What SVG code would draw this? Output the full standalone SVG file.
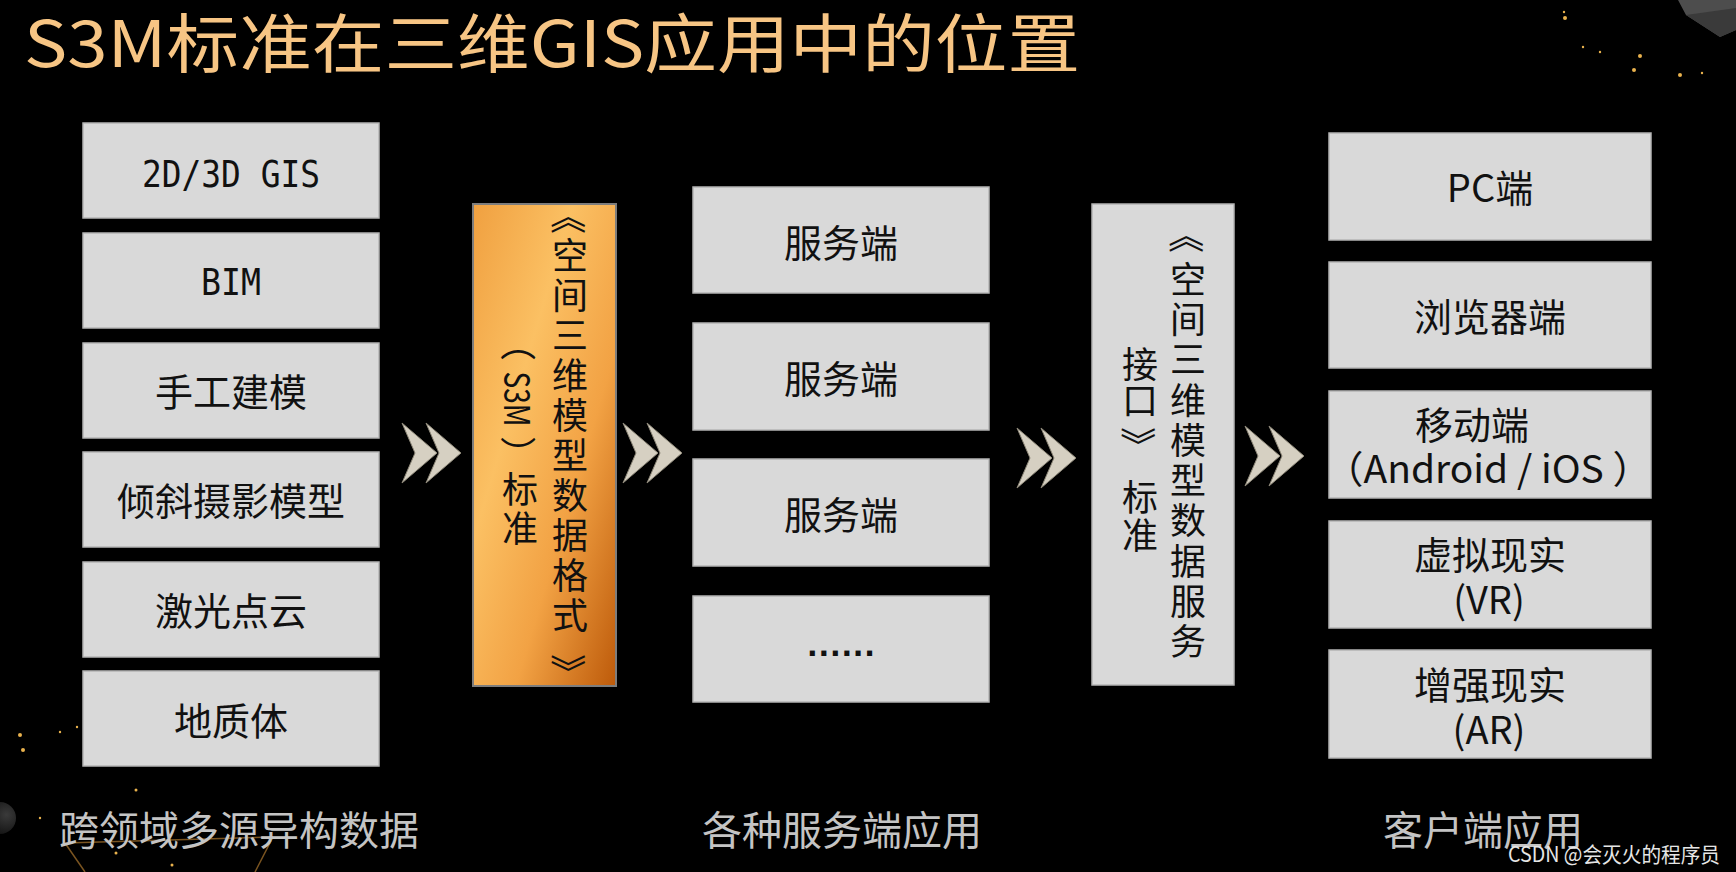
<svg xmlns="http://www.w3.org/2000/svg" width="1736" height="872" viewBox="0 0 1736 872">
<defs>
<style>
.box{fill:#d9d9d9;stroke:#b4b4b4;stroke-width:1.5}
.t{font-family:"Noto Sans CJK SC","Noto Sans",sans-serif;font-size:38px;fill:#111;text-anchor:middle}
.lat{font-family:"DejaVu Sans Mono","Liberation Mono",monospace;font-size:37px;fill:#111;text-anchor:middle}
.v{font-family:"Noto Sans CJK SC",sans-serif;font-size:36px;fill:#111;writing-mode:vertical-rl}
.r{font-family:"Noto Sans CJK SC",sans-serif;font-size:36px;fill:#111;text-anchor:middle;dominant-baseline:central}
.cap{font-family:"Noto Sans CJK SC",sans-serif;font-size:40px;fill:#c4c4c4;text-anchor:middle}
.chev{fill:#d6d0c2;stroke:#8d8778;stroke-width:1}
.star{fill:#e9b24d}
</style>
<linearGradient id="og" x1="0" y1="0" x2="1" y2="1">
<stop offset="0" stop-color="#f0a040"/>
<stop offset="0.35" stop-color="#fbc063"/>
<stop offset="0.65" stop-color="#f2a244"/>
<stop offset="1" stop-color="#bd5a0a"/>
</linearGradient>
<radialGradient id="ball" cx="0.7" cy="0.4" r="0.7">
<stop offset="0" stop-color="#3a3a3a"/>
<stop offset="1" stop-color="#111"/>
</radialGradient>
<polygon id="ch" points="0,0 35,30 0,60 13,30"/>
</defs>
<rect width="1736" height="872" fill="#000"/>
<g id="decor">
<polygon points="1678,0 1686,15 1720,37 1736,30 1736,0" fill="#4d4d4d"/>
<polygon points="1686,15 1720,37 1736,30 1736,8" fill="#3a3a3a"/>
<circle cx="0" cy="818" r="16" fill="url(#ball)"/>
<path d="M65,843 L273,837 M65,843 L85,872 M273,837 L255,872" stroke="#7a5420" stroke-width="1.5" fill="none"/>
<circle class="star" cx="1565" cy="18" r="2"/>
<circle class="star" cx="1583" cy="47" r="1.2"/>
<circle class="star" cx="1600" cy="52" r="1.2"/>
<circle class="star" cx="1640" cy="56" r="2"/>
<circle class="star" cx="1634" cy="70" r="2"/>
<circle class="star" cx="1680" cy="75" r="2"/>
<circle class="star" cx="1702" cy="73" r="1.2"/>
<circle class="star" cx="1564" cy="12" r="1.2"/>
<circle class="star" cx="20" cy="735" r="2"/>
<circle class="star" cx="23" cy="750" r="2"/>
<circle class="star" cx="60" cy="732" r="1.2"/>
<circle class="star" cx="77" cy="727" r="1.2"/>
<circle class="star" cx="136" cy="790" r="1.5"/>
<circle class="star" cx="40" cy="818" r="1.2"/>
<circle class="star" cx="116" cy="853" r="1.5"/>
<circle class="star" cx="172" cy="865" r="1.5"/>
</g>
<text x="24" y="67" textLength="1056" lengthAdjust="spacingAndGlyphs" font-family="'Noto Sans CJK SC',sans-serif" font-size="64" fill="#f7c584">S3M标准在三维GIS应用中的位置</text>
<g id="source">
<g id="n-gis"><rect class="box" x="83" y="123" width="296" height="95"/><text class="lat" x="231" y="187" textLength="178" lengthAdjust="spacingAndGlyphs">2D/3D GIS</text></g>
<g id="n-bim"><rect class="box" x="83" y="233" width="296" height="95"/><text class="lat" x="231" y="295" textLength="60" lengthAdjust="spacingAndGlyphs">BIM</text></g>
<g id="n-manual"><rect class="box" x="83" y="343" width="296" height="95"/><text class="t" x="231" y="406">手工建模</text></g>
<g id="n-oblique"><rect class="box" x="83" y="452" width="296" height="95"/><text class="t" x="231" y="515">倾斜摄影模型</text></g>
<g id="n-lidar"><rect class="box" x="83" y="562" width="296" height="95"/><text class="t" x="231" y="625">激光点云</text></g>
<g id="n-geo"><rect class="box" x="83" y="671" width="296" height="95"/><text class="t" x="231" y="735">地质体</text></g>
</g>
<g id="n-s3m">
<rect x="473" y="204" width="143" height="482" fill="url(#og)" stroke="#7d7d7d" stroke-width="2"/>
<text class="r" x="570" y="216" transform="rotate(90 570 216)">《</text>
<text class="v" x="570" y="237" letter-spacing="4">空间三维模型数据格式</text>
<text class="r" x="570" y="672" transform="rotate(90 570 672)">》</text>
<text class="r" x="520" y="343" transform="rotate(90 520 343)">（</text>
<text class="r" x="520" y="399" font-size="28" textLength="55" lengthAdjust="spacingAndGlyphs" transform="rotate(90 520 399)">S3M</text>
<text class="r" x="520" y="454" transform="rotate(90 520 454)">）</text>
<text class="v" x="520" y="471" letter-spacing="3">标准</text>
</g>
<g id="server">
<g id="n-srv1"><rect class="box" x="693" y="187" width="296" height="106"/><text class="t" x="841" y="257">服务端</text></g>
<g id="n-srv2"><rect class="box" x="693" y="323" width="296" height="107"/><text class="t" x="841" y="393">服务端</text></g>
<g id="n-srv3"><rect class="box" x="693" y="459" width="296" height="107"/><text class="t" x="841" y="529">服务端</text></g>
<g id="n-srv4"><rect class="box" x="693" y="596" width="296" height="106"/><text x="841" y="656" font-family="'DejaVu Sans Mono',monospace" font-weight="bold" font-size="31" fill="#111" text-anchor="middle" textLength="76" lengthAdjust="spacing">......</text></g>
</g>
<g id="n-api">
<rect class="box" x="1092" y="204" width="142" height="481"/>
<text class="r" x="1188" y="235" transform="rotate(90 1188 235)">《</text>
<text class="v" x="1188" y="261" letter-spacing="4.3">空间三维模型数据服务</text>
<text class="v" x="1140" y="346" letter-spacing="0.5">接口</text>
<text class="r" x="1140" y="445" transform="rotate(90 1140 445)">》</text>
<text class="v" x="1140" y="479" letter-spacing="2">标准</text>
</g>
<g id="client">
<g id="n-pc"><rect class="box" x="1329" y="133" width="322" height="107"/><text class="t" x="1490" y="202">PC端</text></g>
<g id="n-browser"><rect class="box" x="1329" y="262" width="322" height="106"/><text class="t" x="1490" y="331">浏览器端</text></g>
<g id="n-mobile"><rect class="box" x="1329" y="391" width="322" height="107"/><text class="t" x="1472" y="439">移动端</text><text class="t" x="1488" y="483" font-size="40" textLength="327" lengthAdjust="spacingAndGlyphs">（Android / iOS ）</text></g>
<g id="n-vr"><rect class="box" x="1329" y="521" width="322" height="107"/><text class="t" x="1490" y="569">虚拟现实</text><text class="t" x="1489" y="614">(VR)</text></g>
<g id="n-ar"><rect class="box" x="1329" y="650" width="322" height="108"/><text class="t" x="1490" y="699">增强现实</text><text class="t" x="1489" y="744">(AR)</text></g>
</g>
<g id="connectors">
<use href="#ch" class="chev" x="402" y="423"/><use href="#ch" class="chev" x="426" y="423"/>
<use href="#ch" class="chev" x="623" y="423"/><use href="#ch" class="chev" x="647" y="423"/>
<use href="#ch" class="chev" x="1017" y="428"/><use href="#ch" class="chev" x="1041" y="428"/>
<use href="#ch" class="chev" x="1245" y="426"/><use href="#ch" class="chev" x="1269" y="426"/>
</g>
<g id="captions">
<text class="cap" x="239" y="845">跨领域多源异构数据</text>
<text class="cap" x="842" y="845">各种服务端应用</text>
<text class="cap" x="1483" y="845">客户端应用</text>
</g>
<text x="1508" y="862" font-family="'Noto Sans CJK SC',sans-serif" font-size="21" fill="#e6e6e6" textLength="212" lengthAdjust="spacingAndGlyphs">CSDN @会灭火的程序员</text>
</svg>
